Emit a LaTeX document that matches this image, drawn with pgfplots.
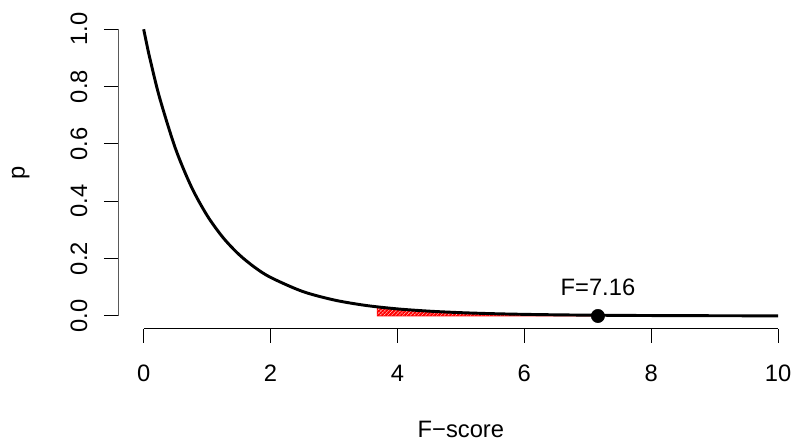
\documentclass[border=0pt]{standalone}
\usepackage{fontspec}
\setmainfont{Liberation Sans}
\usepackage{pgfplots}
\pgfplotsset{compat=1.18}
\usetikzlibrary{patterns.meta}
\begin{document}
\fontsize{17.8}{20}\selectfont
\begin{tikzpicture}
\useasboundingbox (-88.725pt,-84.3pt) rectangle (506.775pt,246.45pt);
\begin{axis}[
  at={(0,0)}, anchor=south west,
  scale only axis,
  width=513.9pt, height=233.1pt,
  xmin=-0.4, xmax=10.4, ymin=-0.044, ymax=1.04,
  axis x line*=bottom, axis y line*=left,
  axis line style={draw=none},
  tick align=outside,
  major tick length=10.8pt,
  tick style={black, line width=0.75pt},
  xtick={0,2,4,6,8,10},
  xticklabels={0,2,4,6,8,10},
  ytick={0,0.2,0.4,0.6,0.8,1.0},
  yticklabels={0.0,0.2,0.4,0.6,0.8,1.0},
  xticklabel style={anchor=center, yshift=-23pt},
  yticklabel style={rotate=90, anchor=center, yshift=18.75pt},
  xlabel={F\textminus score},
  ylabel={p},
  xlabel style={at={(axis description cs:0.5,0)}, anchor=center, yshift=-75.4pt},
  ylabel style={at={(axis description cs:0,0.5)}, anchor=center, yshift=73.2pt},
  /pgf/number format/assume math mode=true,
]
\addplot[draw=red, line width=0.6pt, pattern={Lines[angle=45,distance=2pt,line width=1.6pt]}, pattern color=red]
  coordinates {(3.68,0) (3.68,0.0318) (4,0.0247) (4.5,0.0168) (5,0.01157) (5.5,0.00806) (6,0.00568) (6.5,0.00405) (7,0.00292) (7.16,0.00263) (7.16,0)} -- cycle;
\addplot[black, line width=2.2pt, smooth] coordinates {
 (0,1) (0.05,0.9466) (0.1,0.8963) (0.25,0.7622) (0.5,0.5847) (0.75,0.4513) (1,0.3505)
 (1.25,0.2737) (1.5,0.2149) (1.75,0.1697) (2,0.1346) (2.5,0.0859) (3,0.0558)
 (3.5,0.0368) (4,0.0247) (4.5,0.0168) (5,0.01157) (5.5,0.00806) (6,0.00568)
 (6.5,0.00405) (7,0.00292) (7.5,0.00212) (8,0.00156) (9,0.00086) (10,0.00049)};
\addplot[only marks, mark=*, mark size=5pt, black] coordinates {(7.16,0)};
\draw[line width=0.75pt] (axis cs:0,-0.044) -- (axis cs:10,-0.044);
\draw[line width=0.75pt] (axis cs:-0.4,0) -- (axis cs:-0.4,1);
\node at (axis cs:7.16,0) [yshift=21.4pt] {F=7.16};
\end{axis}
\end{tikzpicture}
\end{document}
